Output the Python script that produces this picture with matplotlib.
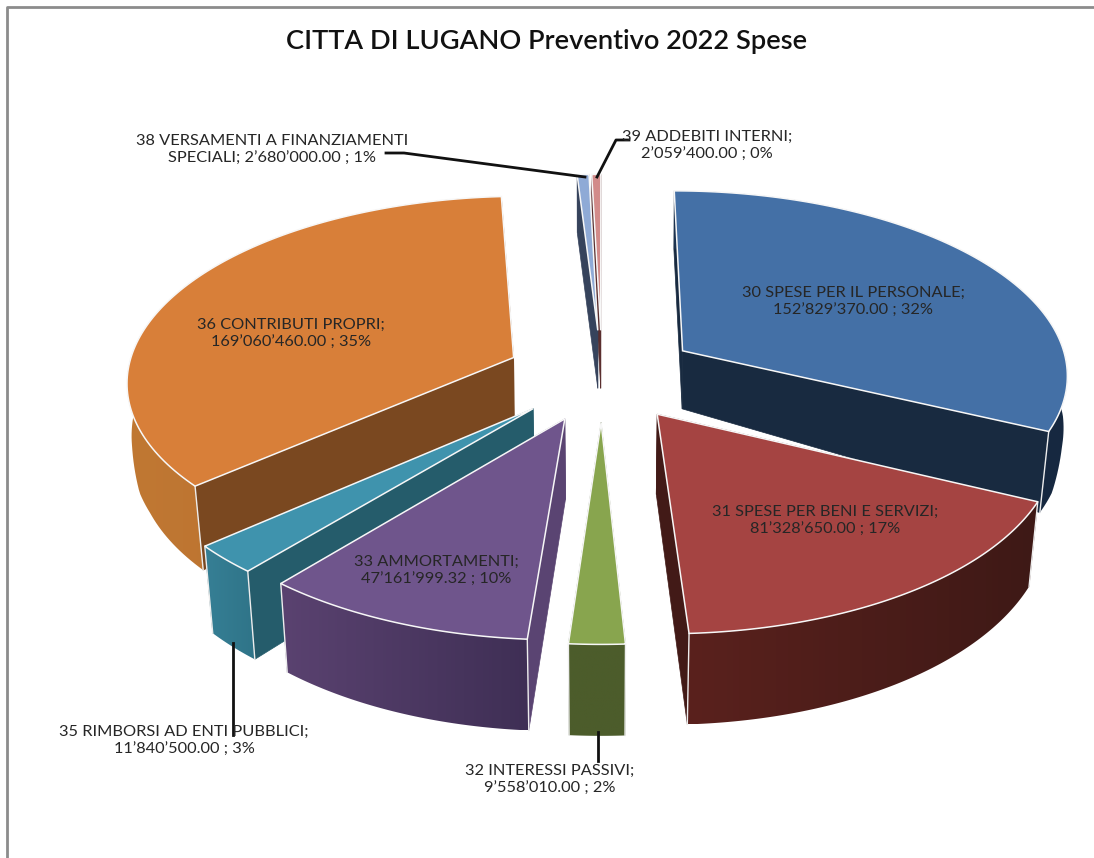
import numpy as np
import matplotlib
matplotlib.use("Agg")
import matplotlib.pyplot as plt
from matplotlib.patches import Polygon
from matplotlib.colors import to_rgb

# ---- data -------------------------------------------------------------
categories = ["30 SPESE PER IL PERSONALE", "31 SPESE PER BENI E SERVIZI",
              "32 INTERESSI PASSIVI", "33 AMMORTAMENTI",
              "35 RIMBORSI AD ENTI PUBBLICI", "36 CONTRIBUTI PROPRI",
              "38 VERSAMENTI A FINANZIAMENTI SPECIALI", "39 ADDEBITI INTERNI"]
values = [152829370.00, 81328650.00, 9558010.00, 47161999.32,
          11840500.00, 169060460.00, 2680000.00, 2059400.00]
value_labels = ["152’829’370.00", "81’328’650.00", "9’558’010.00", "47’161’999.32",
                "11’840’500.00", "169’060’460.00", "2’680’000.00", "2’059’400.00"]
percents = [32, 17, 2, 10, 3, 35, 1, 0]
title = "CITTA DI LUGANO Preventivo 2022 Spese"

top_colors = ["#4470A6", "#A54442", "#88A54E", "#6F558C", "#3F93AD", "#D87F39", "#8FAAD6", "#D28B8A"]
radial_colors = ["#182A40", "#421A17", "#4C5C2B", "#5A4472", "#255C6B", "#7A4820", "#36435C", "#5A2E2E"]
arc_left = ["#1C3350", "#5A211D", "#4C5C2B", "#5A4270", "#367F95", "#C07833", "#36435C", "#5A2E2E"]
arc_right = ["#162840", "#3E1916", "#4C5C2B", "#3F2F55", "#2F7488", "#B56A2C", "#36435C", "#5A2E2E"]

# ---- projection of the exploded 3D pie onto the page -------------------
CX, CY, A, B, P, EXPLODE = 602, 375, 387, 184, 0.117, 0.25


def project(u, v):
    w = 1 - P * v
    return CX + A * u / w, CY + B * v / w


def depth(v):
    return np.interp(v, [-0.13, 0.05, 0.2, 1.3], [58, 62, 80, 92])


def top_pt(u, v):
    return np.column_stack(project(np.asarray(u), np.asarray(v)))


def bottom_pt(u, v):
    v = np.asarray(v)
    p = top_pt(u, v)
    p[:, 0] = CX + (p[:, 0] - CX) * np.interp(v, [-0.1, 0.3], [0.995, 0.98])
    p[:, 1] = p[:, 1] + depth(v)
    return p


fig = plt.figure(figsize=(10.94, 8.58), dpi=100)
ax = fig.add_axes([0, 0, 1, 1])
plt.rcParams["font.family"] = ["Lato", "DejaVu Sans"]

vals = np.array(values)
edges = np.concatenate([[0], np.cumsum(vals) / vals.sum() * 2 * np.pi])
mids = (edges[:-1] + edges[1:]) / 2
off_u = EXPLODE * np.sin(mids)
off_v = -EXPLODE * np.cos(mids)
order = np.argsort(off_v)

z = 2
for i in order:
    th = np.linspace(edges[i], edges[i + 1], 120)
    u = off_u[i] + np.sin(th)
    v = off_v[i] - np.cos(th)
    au, av = np.array([off_u[i]]), np.array([off_v[i]])

    # radial cut faces, further one first
    faces = []
    for k in (0, -1):
        ru, rv = np.array([u[k]]), np.array([v[k]])
        poly = np.vstack([top_pt(au, av), top_pt(ru, rv), bottom_pt(ru, rv), bottom_pt(au, av)])
        faces.append((rv[0], poly))
    faces.sort(key=lambda f: f[0])
    for _, poly in faces:
        ax.add_patch(Polygon(poly, closed=True, fc=radial_colors[i], ec=radial_colors[i], lw=0.5, zorder=z))
        z += 1

    # outer curved face, a horizontal gradient clipped to the rim band
    tp, bt = top_pt(u, v), bottom_pt(u, v)
    band = np.vstack([tp, bt[::-1]])
    clip = Polygon(band, closed=True, fc="none", ec="none", zorder=z)
    ax.add_patch(clip)
    grad = np.linspace(to_rgb(arc_left[i]), to_rgb(arc_right[i]), 64)[None, :, :]
    im = ax.imshow(grad, extent=(band[:, 0].min(), band[:, 0].max(), band[:, 1].max(), band[:, 1].min()),
                   aspect="auto", interpolation="bilinear", zorder=z)
    im.set_clip_path(clip)
    z += 1

    # vertical white edges at the rim corners, then top face
    for k in (0, -1):
        if v[k] > 0:
            ax.plot([tp[k, 0], bt[k, 0]], [tp[k, 1], bt[k, 1]], color="#EDEDED", lw=1, zorder=z)
    z += 1
    outline = np.vstack([top_pt(au, av), tp])
    ax.add_patch(Polygon(outline, closed=True, fc=top_colors[i], ec="#F7F7F7", lw=1.1,
                         joinstyle="miter", zorder=z))
    z += 1

ax.set_xlim(0, 1094)
ax.set_ylim(858, 0)
ax.axis("off")

# ---- frame ------------------------------------------------------------
ax.plot([7, 7, 1094], [858, 7, 7], color="#8C8C8C", lw=2, zorder=1)

# ---- leader lines -----------------------------------------------------
leaders = [([386, 404, 585], [153, 153, 177]),
           ([629, 616, 597], [140, 140, 177]),
           ([233, 233], [643, 735]),
           ([598, 598], [732, 761])]
for lx, ly in leaders:
    ax.plot(lx, ly, color="#111111", lw=2, zorder=z + 1)

# ---- labels -----------------------------------------------------------
label_pos = [(853, 302), (825, 521), (550, 780), (436, 571),
             (184, 741), (291, 334), (272, 150), (707, 146)]
label_text = [f"{c};\n{l} ; {p}%" for c, l, p in zip(categories, value_labels, percents)]
label_text[6] = "38 VERSAMENTI A FINANZIAMENTI\nSPECIALI; 2’680’000.00 ; 1%"
for (x, y), s in zip(label_pos, label_text):
    ax.text(x, y, s, ha="center", va="center", fontsize=11.8, color="#262626",
            linespacing=1.35, zorder=z + 2)

ax.text(547, 41, title, ha="center", va="center", fontsize=19.6, fontweight="semibold",
        color="#111111", zorder=z + 2)

fig.savefig("out.png", dpi=100)
